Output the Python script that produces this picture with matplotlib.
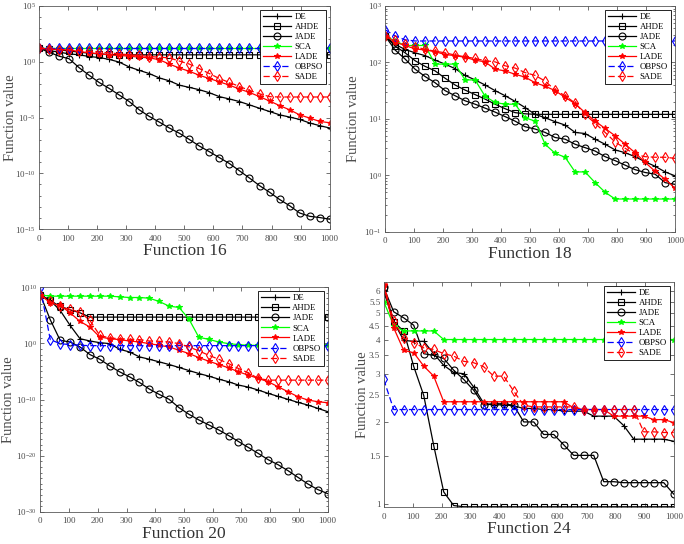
import numpy as np
import matplotlib.pyplot as plt
from matplotlib.ticker import FixedLocator, FixedFormatter, NullLocator, NullFormatter

plt.rcParams['font.family'] = ['Liberation Serif', 'DejaVu Serif']
plt.rcParams['mathtext.fontset'] = 'stix'

iters = np.linspace(0, 1000, 30)
algos = ['DE', 'AHDE', 'JADE', 'SCA', 'LADE', 'OBPSO', 'SADE']

# Function 16 (log10 of best value)
f16_DE = [1.21, 1.00, 0.86, 0.71, 0.62, 0.47, 0.38, 0.21, -0.03, -0.47, -0.77, -1.06, -1.45, -1.71, -2.10,
          -2.30, -2.51, -2.78, -3.13, -3.34, -3.57, -3.87, -4.17, -4.46, -4.76, -4.96, -5.17, -5.49, -5.73, -5.94]
f16_AHDE = [1.21, 1.15, 1.06, 0.97, 0.86, 0.77, 0.71, 0.65, 0.62] + [0.62] * 21
f16_JADE = [1.21, 0.86, 0.50, 0.27, -0.53, -1.21, -1.86, -2.39, -2.98, -3.57, -4.31, -4.90, -5.41, -5.94, -6.41,
            -6.97, -7.56, -8.07, -8.60, -9.13, -9.78, -10.43, -11.11, -11.70, -12.35, -12.91, -13.56, -13.86, -13.97, -14.12]
f16_SCA = [1.21] * 30
f16_LADE = [1.21, 1.15, 1.09, 1.06, 0.92, 0.80, 0.71, 0.62, 0.56, 0.50, 0.41, 0.35, 0.18, -0.21, -0.56,
            -0.86, -1.21, -1.51, -1.80, -2.10, -2.45, -2.75, -3.13, -3.52, -3.93, -4.31, -4.76, -5.05, -5.35, -5.47]
f16_OBPSO = [1.21] * 30
f16_SADE = [1.21, 1.15, 1.09, 1.06, 1.00, 0.92, 0.86, 0.80, 0.71, 0.62, 0.56, 0.47, 0.41, 0.35, 0.06,
            -0.21, -0.62, -1.06, -1.51, -1.86, -2.22, -2.57, -2.87, -3.13] + [-3.16] * 6

# Function 18 (log10)
f18_DE = [2.47, 2.32, 2.23, 2.17, 2.12, 2.04, 1.97, 1.89, 1.77, 1.69, 1.60, 1.50, 1.41, 1.31, 1.20,
          1.08, 1.02, 0.95, 0.89, 0.76, 0.74, 0.64, 0.55, 0.45, 0.40, 0.33, 0.24, 0.16, 0.06, -0.01]
f18_AHDE = [2.47, 2.29, 2.17, 2.03, 1.93, 1.85, 1.72, 1.60, 1.51, 1.43, 1.35, 1.26, 1.18, 1.11, 1.09] + [1.08] * 15
f18_JADE = [2.47, 2.22, 2.06, 1.88, 1.75, 1.64, 1.50, 1.41, 1.32, 1.26, 1.19, 1.12, 1.04, 0.96, 0.86,
            0.82, 0.76, 0.67, 0.64, 0.55, 0.49, 0.43, 0.33, 0.26, 0.18, 0.10, 0.05, 0.02, -0.13, -0.16]
f18_SCA = [2.47, 2.38, 2.30, 2.30, 2.30, 1.97, 1.97, 1.97, 1.69, 1.69, 1.40, 1.29, 1.26, 1.26, 1.02,
           0.96, 0.55, 0.39, 0.32, 0.06, 0.06, -0.13, -0.30] + [-0.42] * 7
f18_LADE = [2.47, 2.36, 2.30, 2.24, 2.22, 2.19, 2.14, 2.12, 2.09, 2.04, 2.01, 1.88, 1.85, 1.79, 1.74,
            1.64, 1.58, 1.50, 1.38, 1.27, 1.11, 0.96, 0.83, 0.70, 0.55, 0.40, 0.23, 0.07, -0.07, -0.23]
f18_OBPSO = [2.58, 2.47, 2.40] + [2.38] * 27
f18_SADE = [2.47, 2.40, 2.32, 2.28, 2.23, 2.20, 2.17, 2.13, 2.10, 2.07, 2.03, 2.01, 1.94, 1.90, 1.82,
            1.77, 1.67, 1.51, 1.41, 1.28, 1.08, 0.92, 0.76, 0.59, 0.48, 0.37, 0.33, 0.32, 0.32, 0.30]

# Function 20 (log10)
f20_DE = [8.64, 7.64, 5.87, 3.21, 0.84, 0.43, 0.13, -0.04, -1.05, -1.52, -2.40, -2.82, -3.29, -3.76, -4.29,
          -4.83, -5.36, -5.83, -6.36, -6.83, -7.42, -7.78, -8.31, -8.90, -9.43, -9.96, -10.50, -10.97, -11.56, -12.15]
f20_AHDE = [8.64, 7.64, 6.57, 5.98, 5.45] + [4.68] * 25
f20_JADE = [8.64, 4.21, 0.55, 0.25, -0.63, -1.99, -2.82, -4.00, -5.06, -5.95, -6.95, -8.13, -9.08, -9.96, -11.44,
            -12.62, -13.63, -14.51, -15.40, -16.40, -17.47, -18.53, -19.59, -20.71, -21.60, -22.66, -23.84, -25.02, -26.02, -26.74]
f20_SCA = [8.64, 8.41, 8.41, 8.41, 8.41, 8.41, 8.41, 8.41, 8.29, 8.17, 8.17, 8.05, 7.46, 6.63, 6.40,
           4.33, 1.08, 0.73, 0.25, -0.04, -0.22] + [-0.34] * 9
f20_LADE = [8.64, 7.22, 6.75, 5.45, 3.92, 2.91, 1.14, 0.84, 0.67, 0.43, 0.25, -0.04, -0.34, -0.63, -1.22,
            -1.81, -2.52, -3.17, -3.76, -4.35, -5.06, -5.65, -6.24, -6.83, -7.72, -8.61, -9.49, -10.08, -10.38, -10.56]
f20_OBPSO = [9.9, 0.67, -0.04, -0.22, -0.34] + [-0.40] * 25
f20_SADE = [8.64, 7.46, 6.57, 6.04, 5.57, 4.09, 1.43, 0.96, 0.84, 0.73, 0.67, 0.43, 0.37, 0.25, -0.04,
            -0.63, -1.34, -2.11, -2.82, -3.59, -4.47, -5.24, -6.24] + [-6.54] * 7

# Function 24 (values)
f24_DE = [6.0, 4.64, 3.97, 3.94, 3.94, 3.55, 3.22, 3.03, 3.0, 2.68, 2.34, 2.31, 2.31, 2.29, 2.24,
          2.24, 2.22, 2.22, 2.19, 2.19, 2.19, 2.10, 2.10, 2.10, 1.94, 1.73, 1.73, 1.73, 1.73, 1.70]
f24_AHDE = [6.2, 4.64, 4.29, 3.19, 2.5, 1.64, 1.11, 0.99] + [0.98] * 22
f24_JADE = [6.2, 5.05, 4.8, 4.51, 3.55, 3.5, 3.41, 3.09, 2.86, 2.61, 2.3, 2.33, 2.33, 2.3, 2.0,
            2.0, 1.8, 1.8, 1.65, 1.51, 1.51, 1.51, 1.21, 1.21, 1.2, 1.2, 1.2, 1.2, 1.2, 1.09]
f24_SCA = [5.5, 4.5, 4.3, 4.3, 4.3, 4.3] + [4.0] * 24
f24_LADE = [6.31, 4.41, 3.65, 3.58, 3.2, 2.94] + [2.37] * 13 + [2.25, 2.22, 2.22, 2.22, 2.10, 2.10, 2.10, 2.10, 2.04, 2.04, 1.99]
f24_OBPSO = [2.86] + [2.22] * 29
f24_SADE = [6.4, 4.66, 4.05, 3.9, 3.73, 3.68, 3.55, 3.48, 3.33, 3.29, 3.18, 2.94, 2.94, 2.59, 2.30,
            2.27, 2.27, 2.27, 2.27, 2.27, 2.22, 2.22, 2.22, 2.22, 2.22, 2.22, 1.84, 1.84, 1.83, 1.83]

styles = {
    'DE': dict(color='k', ls='-', marker='+', ms=5, mfc='none'),
    'AHDE': dict(color='k', ls='-', marker='s', ms=4, mfc='none'),
    'JADE': dict(color='k', ls='-', marker='o', ms=5, mfc='none'),
    'SCA': dict(color=(0, 1, 0), ls='-', marker='*', ms=4),
    'LADE': dict(color='r', ls='-', marker='*', ms=4),
    'OBPSO': dict(color='b', ls=(0, (5, 2.5)), marker='d', ms=5, mfc='none'),
    'SADE': dict(color='r', ls=(0, (5, 2.5)), marker='d', ms=5, mfc='none'),
}

f16 = [f16_DE, f16_AHDE, f16_JADE, f16_SCA, f16_LADE, f16_OBPSO, f16_SADE]
f18 = [f18_DE, f18_AHDE, f18_JADE, f18_SCA, f18_LADE, f18_OBPSO, f18_SADE]
f20 = [f20_DE, f20_AHDE, f20_JADE, f20_SCA, f20_LADE, f20_OBPSO, f20_SADE]
f24 = [f24_DE, f24_AHDE, f24_JADE, f24_SCA, f24_LADE, f24_OBPSO, f24_SADE]

fig = plt.figure(figsize=(6.84, 5.44), dpi=100)
ax1 = fig.add_axes([0.057, 0.579, 0.425, 0.410])
ax2 = fig.add_axes([0.563, 0.574, 0.424, 0.415])
ax3 = fig.add_axes([0.059, 0.059, 0.42, 0.413])
ax4 = fig.add_axes([0.561, 0.068, 0.424, 0.414])

grey = '0.35'


def draw(ax, series, title, labelx, logged=True):
    for name, ys in zip(algos, series):
        ys = np.array(ys, dtype=float)
        if logged:
            ys = 10 ** ys
        ax.plot(iters, ys, label=name, lw=0.9, mew=0.8, **styles[name])
    ax.set_yscale('log')
    ax.set_xlim(0, 1000)
    ax.set_xticks(np.arange(0, 1001, 100))
    ax.tick_params(which='both', direction='in', top=True, right=True, labelsize=6.5,
                   colors=grey, labelcolor='0.3', width=0.6)
    ax.tick_params(which='major', length=3, pad=2.5)
    ax.tick_params(axis='x', which='major', pad=4)
    ax.tick_params(which='minor', length=1.6)
    for s in ax.spines.values():
        s.set_color(grey)
        s.set_linewidth(0.6)
    ax.set_xlabel(title, fontsize=12.5, color='0.2', labelpad=0.5)
    ax.set_ylabel('Function value', fontsize=10.5, color='0.3')
    ax.yaxis.set_label_coords(labelx, 0.5)
    leg = ax.legend(loc='upper right', fontsize=6.3, handlelength=3.2, labelspacing=0.22,
                    borderpad=0.35, borderaxespad=0.45, fancybox=False, framealpha=1,
                    handletextpad=0.4)
    leg.get_frame().set_edgecolor('k')
    leg.get_frame().set_linewidth(0.6)


draw(ax1, f16, 'Function 16', -0.076)
ax1.set_ylim(1e-15, 1e5)
ax1.yaxis.set_major_locator(FixedLocator([1e-15, 1e-10, 1e-5, 1e0, 1e5]))
ax1.yaxis.set_minor_locator(FixedLocator([10.0 ** k for k in range(-15, 6)]))
ax1.yaxis.set_minor_formatter(NullFormatter())

draw(ax2, f18, 'Function 18', -0.086)
ax2.set_ylim(1e-1, 1e3)

draw(ax3, f20, 'Function 20', -0.087)
ax3.set_ylim(1e-30, 1e10)
ax3.yaxis.set_major_locator(FixedLocator([1e-30, 1e-20, 1e-10, 1e0, 1e10]))
ax3.yaxis.set_minor_locator(FixedLocator([10.0 ** k for k in range(-30, 11)]))
ax3.yaxis.set_minor_formatter(NullFormatter())

draw(ax4, f24, 'Function 24', -0.052, logged=False)
ax4.set_ylim(0.978, 6.5)
yt = [1, 1.5, 2, 2.5, 3, 3.5, 4, 4.5, 5, 5.5, 6]
ax4.yaxis.set_major_locator(FixedLocator(yt))
ax4.yaxis.set_major_formatter(FixedFormatter(['%g' % v for v in yt]))
ax4.yaxis.set_minor_locator(NullLocator())

fig.savefig('out.png', dpi=100)
